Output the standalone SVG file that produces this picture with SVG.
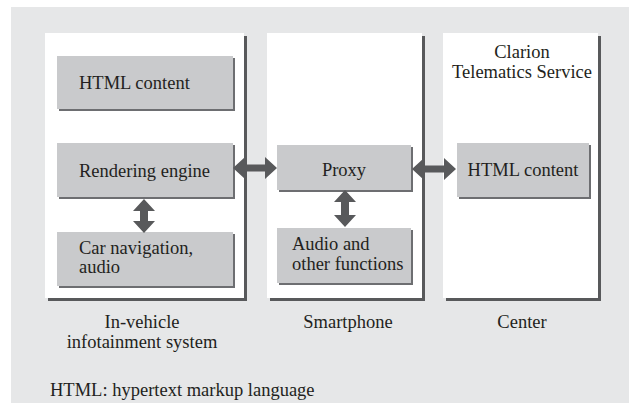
<svg xmlns="http://www.w3.org/2000/svg" width="629" height="403" viewBox="0 0 629 403">
<style>
.bg{fill:#e6e7e8}
.panel{fill:#ffffff}
.pshadow{fill:#58595b}
.box{fill:#c9cacc}
.bshadow{fill:#6d6e71}
.arrow{fill:#58595b}
text{font-family:"Liberation Serif","Times New Roman",serif;font-size:18.5px;fill:#231f20}
.c{text-anchor:middle}
</style>
<rect class="bg" x="11" y="7" width="618" height="396"/>
<g id="panel-vehicle">
<rect class="pshadow" x="48" y="36" width="199" height="265"/>
<rect class="panel" x="45" y="33" width="199" height="265"/>
<text class="c" x="142" y="328">In-vehicle</text>
<text class="c" x="142" y="348">infotainment system</text>
</g>
<g id="panel-smartphone">
<rect class="pshadow" x="270" y="36" width="155" height="265"/>
<rect class="panel" x="267" y="33" width="155" height="265"/>
<text class="c" x="348" y="328">Smartphone</text>
</g>
<g id="panel-center">
<rect class="pshadow" x="446" y="36" width="155" height="265"/>
<rect class="panel" x="443" y="33" width="155" height="265"/>
<text class="c" x="522" y="58">Clarion</text>
<text class="c" x="522" y="78">Telematics Service</text>
<text class="c" x="522" y="328">Center</text>
</g>
<g id="html-content-vehicle">
<rect class="bshadow" x="59" y="58" width="176" height="53"/>
<rect class="box" x="57" y="56" width="176" height="53"/>
<text x="79" y="89">HTML content</text>
</g>
<g id="rendering-engine">
<rect class="bshadow" x="59" y="145" width="176" height="54"/>
<rect class="box" x="57" y="143" width="176" height="54"/>
<text x="79" y="177">Rendering engine</text>
</g>
<g id="car-navigation">
<rect class="bshadow" x="59" y="234" width="176" height="54"/>
<rect class="box" x="57" y="232" width="176" height="54"/>
<text x="79" y="254">Car navigation,</text>
<text x="79" y="273">audio</text>
</g>
<g id="proxy">
<rect class="bshadow" x="279" y="147" width="134" height="45"/>
<rect class="box" x="277" y="145" width="134" height="45"/>
<text class="c" x="344" y="176">Proxy</text>
</g>
<g id="audio-functions">
<rect class="bshadow" x="279" y="230" width="134" height="55"/>
<rect class="box" x="277" y="228" width="134" height="55"/>
<text x="292" y="250">Audio and</text>
<text x="292" y="270">other functions</text>
</g>
<g id="html-content-center">
<rect class="bshadow" x="459" y="145" width="132" height="54"/>
<rect class="box" x="457" y="143" width="132" height="54"/>
<text class="c" x="523" y="176">HTML content</text>
</g>
<g id="connectors">
<polygon class="arrow" points="233,168 245,157 245,164.5 265,164.5 265,157 277,168 265,179 265,171.5 245,171.5 245,179"/>
<polygon class="arrow" points="412,169 424,158 424,165.5 444,165.5 444,158 456,169 444,180 444,172.5 424,172.5 424,180"/>
<polygon class="arrow" points="144,199 155,211 148,211 148,221 155,221 144,233 133,221 140,221 140,211 133,211"/>
<polygon class="arrow" points="345,190 356,202 349,202 349,215 356,215 345,227 334,215 341,215 341,202 334,202"/>
</g>
<text x="50" y="396">HTML: hypertext markup language</text>
</svg>
